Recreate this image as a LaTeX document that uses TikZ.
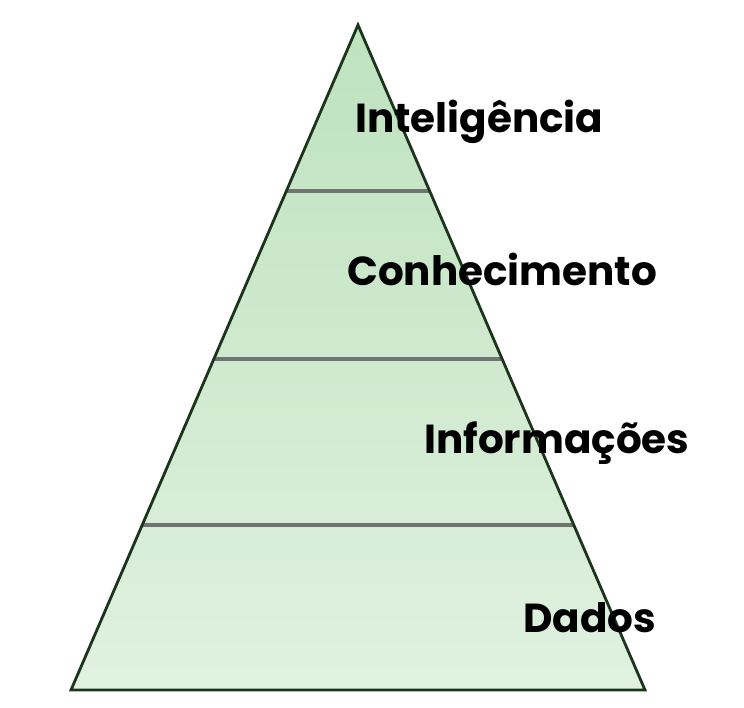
\documentclass[tikz,border=0pt]{standalone}
\usepackage{fontspec}
\setmainfont{Poppins}[BoldFont={* Bold}]
\usetikzlibrary{calc}
\definecolor{topgreen}{RGB}{190,226,190}
\definecolor{botgreen}{RGB}{224,241,224}
\definecolor{edgegreen}{RGB}{28,52,28}
\definecolor{bandgray}{RGB}{112,116,112}
\tikzset{
  label/.style={anchor=base west, inner sep=0pt, font=\fontsize{40.5}{42}\selectfont\bfseries, text=black},
  band/.style={draw=bandgray, line width=3.2pt},
}
\begin{document}
\begin{tikzpicture}[x=1pt,y=-1pt]
\useasboundingbox (0,0) rectangle (744,707);
\coordinate (apex) at (358,25);
\coordinate (bl) at (71,690);
\coordinate (br) at (645,690);
\shade[top color=topgreen, bottom color=botgreen] (apex) -- (br) -- (bl) -- cycle;
\foreach \t/\n in {0.2496/a,0.5023/b,0.7519/c}{
  \coordinate (l\n) at ($(apex)!\t!(bl)$);
  \coordinate (r\n) at ($(apex)!\t!(br)$);
  \draw[band] (l\n) -- (r\n);
}
\draw[edgegreen, line width=2.8pt, line join=miter] (apex) -- (br) -- (bl) -- cycle;
\node[label] (int) at (355,132) {Inteligência};
\node[label] (con) at (347,285) {Conhecimento};
\node[label] (inf) at (424,453) {Informações};
\node[label] (dad) at (523,632) {Dados};
\end{tikzpicture}
\end{document}
